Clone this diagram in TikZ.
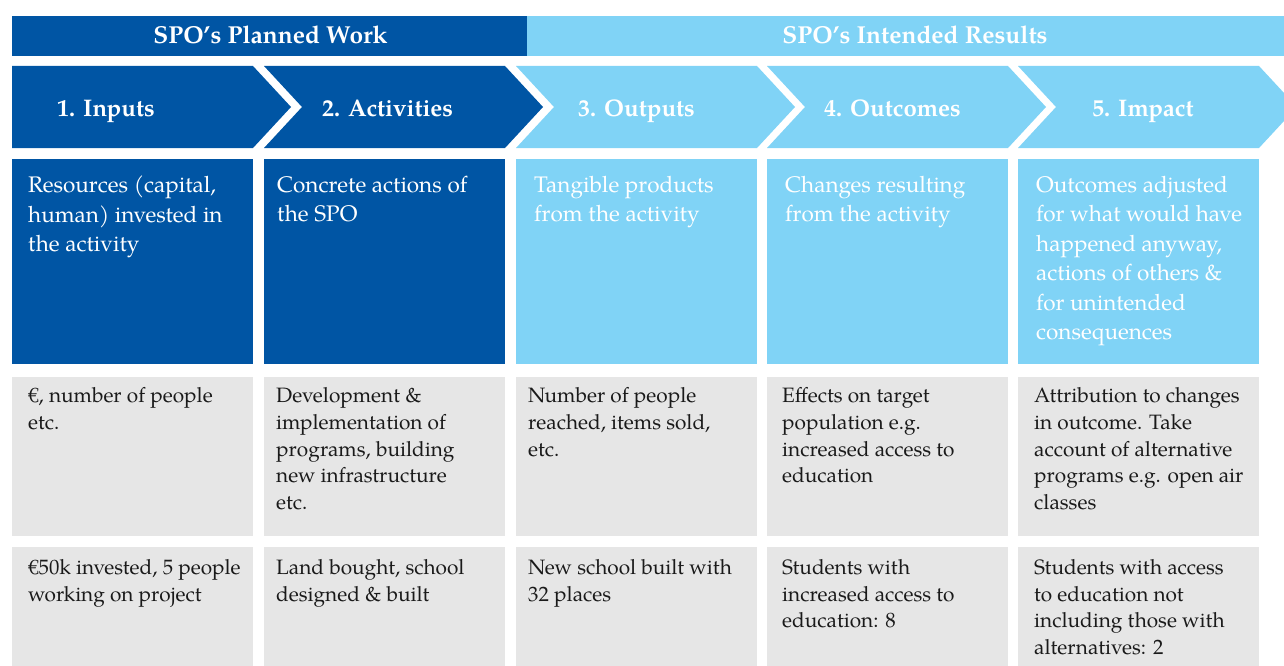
\documentclass[tikz,border=0pt]{standalone}
\usepackage{fontspec}
\setmainfont{TeX Gyre Pagella}
\definecolor{dkblue}{HTML}{0055A4}
\definecolor{ltblue}{HTML}{80D3F6}
\definecolor{boxgrey}{HTML}{E6E6E6}
\definecolor{txtdark}{HTML}{1A1A1A}
\tikzset{
  hdr/.style={font=\fontsize{24.5}{29}\selectfont\bfseries, text=white, inner sep=0pt, anchor=base},
  chevlabel/.style={font=\fontsize{24}{29}\selectfont\bfseries, text=white, inner sep=0pt, anchor=base west},
  desc/.style={font=\fontsize{22.5}{29.4}\selectfont, text=white, inner sep=0pt, anchor=north west, align=left, execute at begin node=\strut},
  info/.style={font=\fontsize{20.8}{26.7}\selectfont, text=txtdark, inner sep=0pt, anchor=north west, align=left, execute at begin node=\strut},
}
\begin{document}
\begin{tikzpicture}[x=1pt, y=-1pt]
\useasboundingbox (0,0) rectangle (1284,666);
\clip (0,0) rectangle (1284,666);
% header bars
\fill[dkblue] (12,16) rectangle (527,56);
\fill[ltblue] (527,16) rectangle (1300,56);
\node[hdr] (hdrA) at (270.5,44) {SPO’s Planned Work};
\node[hdr] (hdrB) at (915,44) {SPO’s Intended Results};
% chevrons
\fill[dkblue] (12,66) -- (253,66) -- (291,107) -- (253,148) -- (12,148) -- cycle;
\fill[dkblue] (264,66) -- (505,66) -- (543,107) -- (505,148) -- (264,148) -- (302,107) -- cycle;
\fill[ltblue] (516,66) -- (757,66) -- (795,107) -- (757,148) -- (516,148) -- (554,107) -- cycle;
\fill[ltblue] (767,66) -- (1008,66) -- (1046,107) -- (1008,148) -- (767,148) -- (805,107) -- cycle;
\fill[ltblue] (1018,66) -- (1259,66) -- (1297,107) -- (1259,148) -- (1018,148) -- (1056,107) -- cycle;
\node[chevlabel] (chev1) at (57,117) {1. Inputs};
\node[chevlabel] (chev2) at (322,117) {2. Activities};
\node[chevlabel] (chev3) at (578,117) {3. Outputs};
\node[chevlabel] (chev4) at (824,117) {4. Outcomes};
\node[chevlabel] (chev5) at (1092,117) {5. Impact};
% description boxes
\fill[dkblue] (12,159) rectangle (253,364);
\fill[dkblue] (264,159) rectangle (505,364);
\fill[ltblue] (516,159) rectangle (757,364);
\fill[ltblue] (767,159) rectangle (1008,364);
\fill[ltblue] (1018,159) rectangle (1259,364);
\node[desc] (d1) at (28,176) {Resources (capital,\\human) invested in\\the activity};
\node[desc] (d2) at (277,176) {Concrete actions of\\the SPO};
\node[desc] (d3) at (534,176) {Tangible products\\from the activity};
\node[desc] (d4) at (785,176) {Changes resulting\\from the activity};
\node[desc] (d5) at (1036,176) {Outcomes adjusted\\for what would have\\happened anyway,\\actions of others \&\\for unintended\\consequences};
% measure boxes
\fill[boxgrey] (12,377) rectangle (253,536);
\fill[boxgrey] (264,377) rectangle (505,536);
\fill[boxgrey] (516,377) rectangle (757,536);
\fill[boxgrey] (767,377) rectangle (1008,536);
\fill[boxgrey] (1018,377) rectangle (1259,536);
\node[info] (m1) at (28,387.5) {€, number of people\\etc.};
\node[info] (m2) at (276,387.5) {Development \&\\implementation of\\programs, building\\new infrastructure\\etc.};
\node[info] (m3) at (528,387.5) {Number of people\\reached, items sold,\\etc.};
\node[info] (m4) at (782,387.5) {Effects on target\\population e.g.\\increased access to\\education};
\node[info] (m5) at (1034,387.5) {Attribution to changes\\in outcome. Take\\account of alternative\\programs e.g. open air\\classes};
% example boxes
\fill[boxgrey] (12,547) rectangle (253,680);
\fill[boxgrey] (264,547) rectangle (505,680);
\fill[boxgrey] (516,547) rectangle (757,680);
\fill[boxgrey] (767,547) rectangle (1008,680);
\fill[boxgrey] (1018,547) rectangle (1259,680);
\node[info] (e1) at (28,559) {€50k invested, 5 people\\working on project};
\node[info] (e2) at (276,559) {Land bought, school\\designed \& built};
\node[info] (e3) at (528,559) {New school built with\\32 places};
\node[info] (e4) at (782,559) {Students with\\increased access to\\education: 8};
\node[info] (e5) at (1034,559) {Students with access\\to education not\\including those with\\alternatives: 2};
\end{tikzpicture}
\end{document}
